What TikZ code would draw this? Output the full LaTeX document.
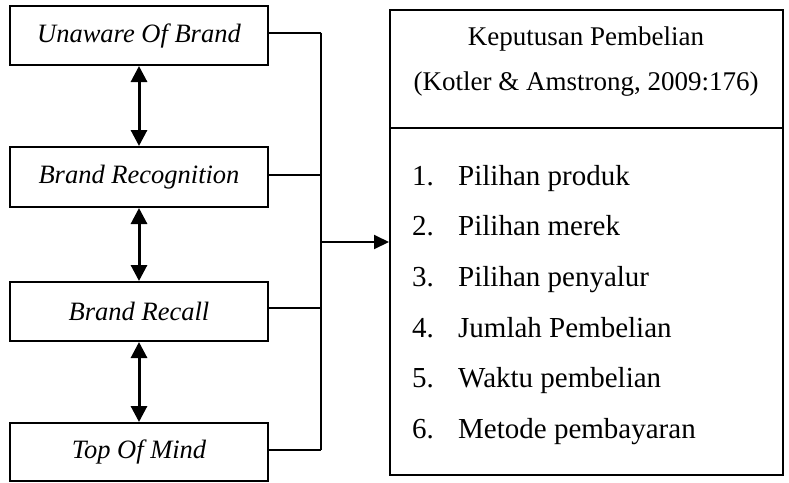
\documentclass[tikz,border=0pt]{standalone}
\usepackage{fontspec}
\setmainfont{Liberation Serif}
\usetikzlibrary{arrows.meta}
\begin{document}
\begin{tikzpicture}[x=1pt,y=-1pt,
  lbox/.style={draw,line width=2pt,minimum width=258pt,minimum height=59pt,inner sep=0pt,font=\fontsize{26.5}{30}\selectfont\itshape},
  link/.style={line width=2pt},
  dbl/.style={line width=3pt,{Triangle[width=16pt,length=16pt]}-{Triangle[width=16pt,length=16pt]}},
  mainarrow/.style={line width=2pt,-{Triangle[width=14pt,length=15pt]}},
  head/.style={anchor=base,inner sep=0pt,font=\fontsize{27}{30}\selectfont},
  item/.style={anchor=base west,inner sep=0pt,font=\fontsize{29}{34}\selectfont}]
\useasboundingbox[fill=white] (0,0) rectangle (789,482);
% left boxes
\node[lbox] (b1) at (139,35.5) {Unaware Of Brand};
\node[lbox,minimum height=60pt] (b2) at (139,177) {Brand Recognition};
\node[lbox] (b3) at (139,311.5) {Brand Recall};
\node[lbox,minimum height=58pt] (b4) at (139,452) {Top Of Mind};
% double arrows
\draw[dbl] (b1.south) -- (b2.north);
\draw[dbl] (b2.south) -- (b3.north);
\draw[dbl] (b3.south) -- (b4.north);
% bus
\coordinate (bus) at (321,0);
\coordinate (ay) at (0,242);
\draw[link] ([yshift=3pt]b1.east) -- ([yshift=3pt]b1.east -| bus);
\draw[link] ([yshift=2pt]b2.east) -- ([yshift=2pt]b2.east -| bus);
\draw[link] ([yshift=4pt]b3.east) -- ([yshift=4pt]b3.east -| bus);
\draw[link] ([yshift=2pt]b4.east) -- ([yshift=2pt]b4.east -| bus);
\draw[link] ([yshift=3pt]b1.east -| bus) -- ([yshift=2pt]b4.east -| bus);
% right box
\node[draw,line width=2pt,minimum width=393pt,minimum height=465pt,inner sep=0pt] (r) at (586.5,242.5) {};
\coordinate (dy) at (0,128);
\draw[link] (r.west |- dy) -- (r.east |- dy);
\draw[mainarrow] (bus |- ay) -- (r.west |- ay);
% header
\node[head] (h1) at (586,45) {Keputusan Pembelian};
\node[head] (h2) at (586,90) {(Kotler \& Amstrong, 2009:176)};
% list
\node[item] (n1) at (412,185) {1.};
\node[item] (t1) at (458,185) {Pilihan produk};
\node[item] (n2) at (412,235.5) {2.};
\node[item] (t2) at (458,235.5) {Pilihan merek};
\node[item] (n3) at (412,286) {3.};
\node[item] (t3) at (458,286) {Pilihan penyalur};
\node[item] (n4) at (412,337) {4.};
\node[item] (t4) at (458,337) {Jumlah Pembelian};
\node[item] (n5) at (412,387) {5.};
\node[item] (t5) at (458,387) {Waktu pembelian};
\node[item] (n6) at (412,438) {6.};
\node[item] (t6) at (458,438) {Metode pembayaran};
\end{tikzpicture}
\end{document}
